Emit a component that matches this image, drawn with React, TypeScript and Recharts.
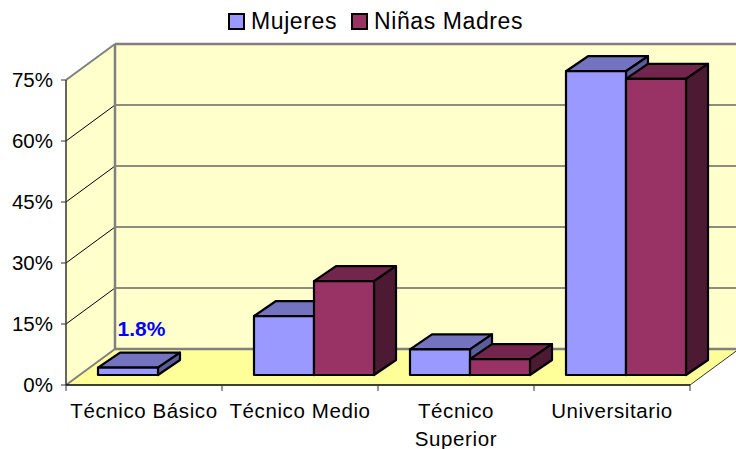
import { BarChart, Bar, XAxis, YAxis, Legend, LabelList, Customized } from 'recharts';

const categories = ['Técnico Básico', 'Técnico Medio', 'Técnico Superior', 'Universitario'];
const tickLines = [['Técnico Básico'], ['Técnico Medio'], ['Técnico', 'Superior'], ['Universitario']];
const mujeres = [1.8, 14.5, 6.3, 74.7];
const ninasMadres = [null, 23.1, 3.9, 72.8];
const yTicks = [0, 15, 30, 45, 60, 75];

const data = categories.map((name, i) => ({ name, mujeres: mujeres[i], ninasMadres: ninasMadres[i] }));

const W = 736;
const H = 449;
const LEFT = 66;
const RIGHT = 690;
const TOP = 80;
const BOTTOM = 385;
const BAND = (RIGHT - LEFT) / categories.length;
const FONT = '"Liberation Sans", Arial, sans-serif';

// wall depth, bar depth and how far the bars sit back from the front plane
const DX = 49;
const DY = 36;
const BAR_DX = 22;
const BAR_DY = 15;
const SHIFT_X = 14;
const SHIFT_Y = 10;

const yOf = (v: number) => BOTTOM - (v / 75) * (BOTTOM - TOP);

function Walls() {
  return (
    <g>
      <polygon points={`${LEFT},${TOP} ${LEFT + DX},${TOP - DY} ${LEFT + DX},${BOTTOM - DY} ${LEFT},${BOTTOM}`} fill="#FFFFCC" />
      <rect x={LEFT + DX} y={TOP - DY} width={RIGHT - LEFT} height={BOTTOM - TOP} fill="#FFFFCC" />
      <polygon
        points={`${LEFT},${BOTTOM} ${RIGHT},${BOTTOM} ${RIGHT + DX},${BOTTOM - DY} ${LEFT + DX},${BOTTOM - DY}`}
        fill="#FFFF99"
      />
      {yTicks.slice(1, -1).map((t) => (
        <g key={t}>
          <line x1={LEFT} y1={yOf(t)} x2={LEFT + DX} y2={yOf(t) - DY} stroke="#000" strokeWidth={1} />
          <line x1={LEFT + DX} y1={yOf(t) - DY} x2={RIGHT + DX} y2={yOf(t) - DY} stroke="#666" strokeWidth={1.5} />
        </g>
      ))}
      <line x1={LEFT + DX} y1={TOP - DY} x2={RIGHT + DX} y2={TOP - DY} stroke="#808080" strokeWidth={2.5} />
      <line x1={LEFT + DX} y1={BOTTOM - DY} x2={RIGHT + DX} y2={BOTTOM - DY} stroke="#808080" strokeWidth={2.5} />
      <line x1={LEFT + DX} y1={TOP - DY} x2={LEFT + DX} y2={BOTTOM - DY} stroke="#808080" strokeWidth={2.5} />
      <line x1={LEFT} y1={TOP} x2={LEFT + DX} y2={TOP - DY} stroke="#808080" strokeWidth={2} />
      <line x1={LEFT} y1={BOTTOM} x2={LEFT + DX} y2={BOTTOM - DY} stroke="#808080" strokeWidth={2} />
      <line x1={RIGHT} y1={BOTTOM} x2={RIGHT + DX} y2={BOTTOM - DY} stroke="#333" strokeWidth={1} />
    </g>
  );
}

function box3d(colors: string[]) {
  return (props: any) => {
    const { x, y, width, height } = props;
    if (!height) return null;
    const l = x + SHIFT_X;
    const t = y - SHIFT_Y;
    const r = l + width;
    const b = t + height;
    return (
      <g stroke="#000" strokeWidth={2.2} strokeLinejoin="round">
        <polygon points={`${l},${t} ${l + BAR_DX},${t - BAR_DY} ${r + BAR_DX},${t - BAR_DY} ${r},${t}`} fill={colors[1]} />
        <polygon points={`${r},${t} ${r + BAR_DX},${t - BAR_DY} ${r + BAR_DX},${b - BAR_DY} ${r},${b}`} fill={colors[2]} />
        <rect x={l} y={t} width={width} height={height} fill={colors[0]} />
      </g>
    );
  };
}

function CategoryTick(props: any) {
  const { x, index } = props;
  const edges = index === categories.length - 1 ? [x - BAND / 2, x + BAND / 2] : [x - BAND / 2];
  return (
    <g>
      {edges.map((ex) => (
        <line key={ex} x1={ex} y1={BOTTOM} x2={ex} y2={BOTTOM + 6} stroke="#333" strokeWidth={1} />
      ))}
      {tickLines[index].map((line, i) => (
        <text key={line} x={x} y={BOTTOM + 33 + i * 28} textAnchor="middle" fontSize={20.5} letterSpacing={0.6} fill="#000" fontFamily={FONT}>
          {line}
        </text>
      ))}
    </g>
  );
}

function firstLabel(props: any) {
  const { x, y, width, value, index } = props;
  if (index !== 0) return null;
  return (
    <text x={x + width / 2 + 27.5} y={y - 41.5} textAnchor="middle" fontSize={21} fontWeight="bold" fill="#0000FF" fontFamily={FONT}>
      {value}%
    </text>
  );
}

function LegendBox(props: any) {
  return (
    <div style={{ display: 'flex', alignItems: 'center', fontFamily: FONT, fontSize: 23, letterSpacing: 0.6, color: '#000' }}>
      {props.payload.map((p: any) => (
        <span key={p.value} style={{ display: 'flex', alignItems: 'center', marginRight: 14 }}>
          <span style={{ width: 13, height: 13, background: p.color, border: '2px solid #000', marginRight: 6 }} />
          {p.value}
        </span>
      ))}
    </div>
  );
}

export default function App() {
  return (
    <div style={{ position: 'absolute', left: 0, top: 0, width: W, height: H, background: '#fff' }}>
      <BarChart
        width={W}
        height={H}
        data={data}
        margin={{ top: TOP, right: W - RIGHT, bottom: 0, left: 0 }}
        barSize={60}
        barGap={0}
      >
        <Customized component={Walls} />
        <XAxis
          dataKey="name"
          height={H - BOTTOM}
          interval={0}
          axisLine={{ stroke: '#000', strokeWidth: 1.5 }}
          tickLine={false}
          tick={CategoryTick}
        />
        <YAxis
          width={LEFT}
          domain={[0, 75]}
          ticks={yTicks}
          tickFormatter={(v) => `${v}%`}
          axisLine={{ stroke: '#333', strokeWidth: 1.5 }}
          tickLine={{ stroke: '#333' }}
          tickSize={5}
          tickMargin={8}
          tick={{ fontSize: 20.5, fill: '#000', fontFamily: FONT }}
        />
        <Legend
          verticalAlign="middle"
          content={LegendBox}
          wrapperStyle={{ position: 'absolute', left: 228, top: 8, width: 320 }}
        />
        <Bar dataKey="mujeres" name="Mujeres" fill="#9999FF" isAnimationActive={false} shape={box3d(['#9999FF', '#7373BF', '#5C5C99'])}>
          <LabelList dataKey="mujeres" content={firstLabel} />
        </Bar>
        <Bar dataKey="ninasMadres" name="Niñas Madres" fill="#993366" isAnimationActive={false} shape={box3d(['#993366', '#73264D', '#4D1A33'])} />
      </BarChart>
    </div>
  );
}
